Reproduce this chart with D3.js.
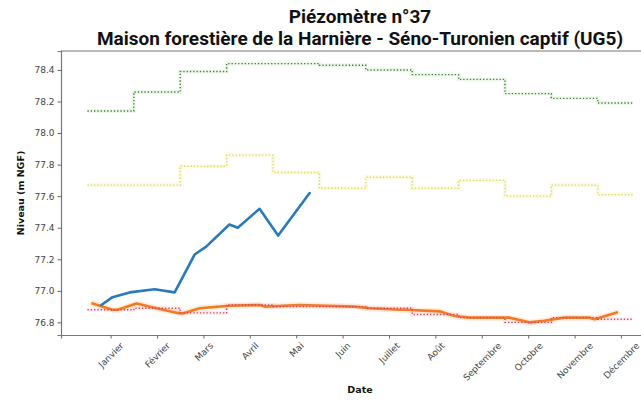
<!DOCTYPE html>
<html>
<head>
<meta charset="utf-8">
<script src="https://cdnjs.cloudflare.com/ajax/libs/d3/7.8.5/d3.min.js"></script>
<style>
  body { margin: 0; background: #fff; }
  svg { display: block; }
</style>
</head>
<body>
<div id="chart"></div>
<script>
// month labels, positioned at month index 1..12
let monthLabels = ['Janvier', 'Février', 'Mars', 'Avril', 'Mai', 'Juin', 'Juillet', 'Août', 'Septembre', 'Octobre', 'Novembre', 'Décembre']
let monthIndex = [1, 2, 3, 4, 5, 6, 7, 8, 9, 10, 11, 12]
let stepEnd = 12.25

// monthly statistics (step lines)
let maxMonthly = [78.14, 78.26, 78.39, 78.44, 78.44, 78.43, 78.40, 78.37, 78.34, 78.25, 78.22, 78.19]
let meanMonthly = [77.67, 77.67, 77.79, 77.86, 77.75, 77.65, 77.72, 77.65, 77.70, 77.60, 77.67, 77.61]
let minMonthly = [76.88, 76.89, 76.86, 76.91, 76.90, 76.90, 76.89, 76.85, 76.83, 76.80, 76.83, 76.82]

// previous year, [month position, level]
let previousYear = [
  [0.61, 76.92], [1.04, 76.88], [1.15, 76.88], [1.56, 76.92], [1.99, 76.89],
  [2.44, 76.86], [2.55, 76.857], [2.92, 76.89], [3.56, 76.905], [4.21, 76.91],
  [4.32, 76.9], [5.07, 76.91], [6.26, 76.9], [6.58, 76.89], [7.23, 76.88],
  [7.34, 76.88], [8.09, 76.87], [8.41, 76.84], [8.74, 76.83], [9.6, 76.83],
  [9.81, 76.815], [10.03, 76.8], [10.35, 76.81], [10.78, 76.83], [11.32, 76.83],
  [11.43, 76.82], [11.91, 76.863]
]

// current year
let currentYear = [
  [0.8, 76.91], [1.04, 76.96], [1.41, 76.99], [1.95, 77.01], [2.38, 76.99],
  [2.81, 77.23], [3.06, 77.28], [3.56, 77.42], [3.74, 77.4], [4.21, 77.52],
  [4.61, 77.35], [5.29, 77.62]
]

let yTicks = [76.8, 77.0, 77.2, 77.4, 77.6, 77.8, 78.0, 78.2, 78.4]

let margin = { top: 51, left: 61, right: 0, bottom: 66 }
let totalWidth = 641
let totalHeight = 401
let width = 598
let height = totalHeight - margin.top - margin.bottom

let svgRoot = d3
  .select('#chart')
  .append('svg')
  .attr('width', totalWidth)
  .attr('height', totalHeight)

let svg = svgRoot
  .append('g')
  .attr('transform', 'translate(' + margin.left + ',' + margin.top + ')')

let xPositionScale = d3.scaleLinear().domain([-0.07, 12.82]).range([0, width])
let yPositionScale = d3.scaleLinear().domain([76.72, 78.52]).range([height, 0])

// step lines: each monthly value spans half a month either side
function stepPoints(values) {
  let pts = []
  values.forEach((v, i) => {
    let m = monthIndex[i]
    let end = i === values.length - 1 ? stepEnd : m + 0.5
    pts.push([m - 0.5, v])
    pts.push([end, v])
  })
  return pts
}

let line = d3
  .line()
  .x(d => xPositionScale(d[0]))
  .y(d => yPositionScale(d[1]))

svg
  .append('clipPath')
  .attr('id', 'plot-clip')
  .append('rect')
  .attr('width', width)
  .attr('height', height)

let plot = svg.append('g').attr('clip-path', 'url(#plot-clip)')

// previous year, with a soft halo
plot
  .append('path')
  .datum(previousYear)
  .attr('d', line)
  .attr('fill', 'none')
  .attr('stroke', 'rgba(255,175,90,0.22)')
  .attr('stroke-width', 6)
  .attr('stroke-linejoin', 'round')
  .attr('stroke-linecap', 'round')

plot
  .append('path')
  .datum(previousYear)
  .attr('d', line)
  .attr('fill', 'none')
  .attr('stroke', '#f07a22')
  .attr('stroke-width', 2.6)
  .attr('stroke-linejoin', 'round')
  .attr('stroke-linecap', 'round')

let steps = [
  { values: maxMonthly, color: '#3d7d3a', halo: 'rgba(170,220,150,0.2)' },
  { values: meanMonthly, color: '#e0d65e', halo: 'rgba(240,235,150,0.25)' },
  { values: minMonthly, color: '#d2405a', halo: 'rgba(240,150,160,0.15)' }
]

steps.forEach(s => {
  plot
    .append('path')
    .datum(stepPoints(s.values))
    .attr('d', line)
    .attr('fill', 'none')
    .attr('stroke', s.halo)
    .attr('stroke-width', 4)

  plot
    .append('path')
    .datum(stepPoints(s.values))
    .attr('d', line)
    .attr('fill', 'none')
    .attr('stroke', s.color)
    .attr('stroke-width', 1.4)
    .attr('stroke-dasharray', '1.3,2')
})

// current year
plot
  .append('path')
  .datum(currentYear)
  .attr('d', line)
  .attr('fill', 'none')
  .attr('stroke', '#2a7ab8')
  .attr('stroke-width', 2.6)
  .attr('stroke-linejoin', 'round')
  .attr('stroke-linecap', 'round')

// axes
let yAxis = d3
  .axisLeft(yPositionScale)
  .tickValues(yTicks)
  .tickFormat(d3.format('.1f'))
  .tickSize(3.5)
  .tickPadding(3)

svg
  .append('g')
  .attr('class', 'axis y-axis')
  .call(yAxis)

let xAxis = d3
  .axisBottom(xPositionScale)
  .tickValues(monthIndex)
  .tickFormat((d, i) => monthLabels[i])
  .tickSize(3.5)
  .tickPadding(3)

svg
  .append('g')
  .attr('class', 'axis x-axis')
  .attr('transform', 'translate(0,' + height + ')')
  .call(xAxis)

svg.selectAll('.axis .domain').attr('stroke', '#777').attr('stroke-width', 1.2)
svg.selectAll('.axis .tick line').attr('stroke', '#666')
svg
  .selectAll('.axis text')
  .attr('fill', '#444')
  .style('font-family', 'DejaVu Sans, sans-serif')
  .style('font-size', '9px')

// rotate month labels 45 degrees, centred under the tick
svg.selectAll('.x-axis .tick text').each(function() {
  let t = d3.select(this)
  let w = this.getComputedTextLength()
  let h = 9
  let cy = 6 + ((w + h) * Math.SQRT1_2) / 2
  t.attr('y', null)
    .attr('dy', null)
    .attr('text-anchor', 'middle')
    .attr('dominant-baseline', 'central')
    .attr('transform', 'translate(0,' + cy + ') rotate(-45)')
})

// top spine
svg
  .append('line')
  .attr('x1', 0)
  .attr('x2', width)
  .attr('y1', 0)
  .attr('y2', 0)
  .attr('stroke', '#777')
  .attr('stroke-width', 1.2)

// labels
svg
  .append('text')
  .attr('transform', 'translate(' + (24 - margin.left) + ',' + height / 2 + ') rotate(-90)')
  .attr('text-anchor', 'middle')
  .style('font-family', 'DejaVu Sans, sans-serif')
  .style('font-size', '9.5px')
  .style('font-weight', 'bold')
  .attr('fill', '#111')
  .text('Niveau (m NGF)')

svgRoot
  .append('text')
  .attr('x', 360)
  .attr('y', 393)
  .attr('text-anchor', 'middle')
  .style('font-family', 'DejaVu Sans, sans-serif')
  .style('font-size', '9.5px')
  .style('font-weight', 'bold')
  .attr('fill', '#111')
  .text('Date')

let titleLines = ['Piézomètre n°37', 'Maison forestière de la Harnière - Séno-Turonien captif (UG5)']

svgRoot
  .selectAll('.title')
  .data(titleLines)
  .enter()
  .append('text')
  .attr('class', 'title')
  .attr('x', 360)
  .attr('y', (d, i) => 23 + i * 22)
  .attr('text-anchor', 'middle')
  .style('font-family', 'Roboto, sans-serif')
  .style('font-size', '19px')
  .style('font-weight', 'bold')
  .attr('fill', '#111')
  .text(d => d)
</script>
</body>
</html>
